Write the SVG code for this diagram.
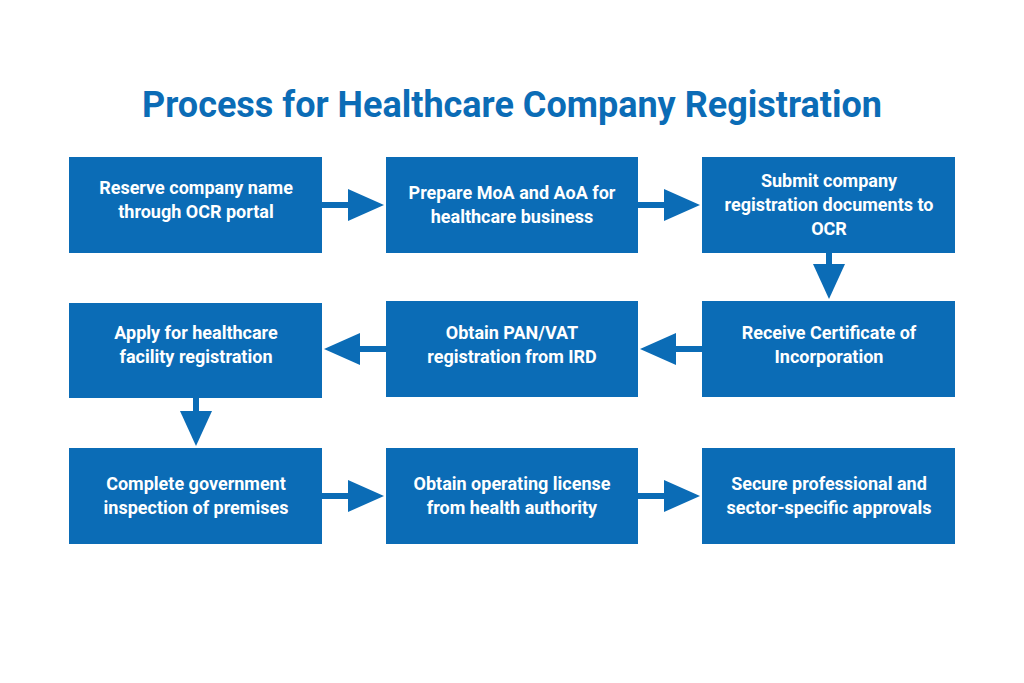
<svg xmlns="http://www.w3.org/2000/svg" width="1024" height="683" viewBox="0 0 1024 683">
<style>
.b{fill:#0b6cb6}
.t{font-family:Roboto,"Liberation Sans",sans-serif;font-weight:bold;font-size:18px;fill:#fff;text-anchor:middle}
.c{stroke:#0b6cb6;stroke-width:6;fill:none}
.h{fill:#0b6cb6}
</style>
<rect width="1024" height="683" fill="#fff"/>
<text x="512" y="117" style="font-family:Roboto,'Liberation Sans',sans-serif;font-weight:bold;font-size:36px;fill:#0b6cb6;text-anchor:middle">Process for Healthcare Company Registration</text>
<g id="connectors">
<path class="c" d="M322 205H350"/><polygon class="h" points="348,189 384,205 348,221"/>
<path class="c" d="M638 205H666"/><polygon class="h" points="664,189 700,205 664,221"/>
<path class="c" d="M829 253V266"/><polygon class="h" points="813,264 829,299 845,264"/>
<path class="c" d="M702 349H674"/><polygon class="h" points="676,333 640,349 676,365"/>
<path class="c" d="M386 349H358"/><polygon class="h" points="360,333 324,349 360,365"/>
<path class="c" d="M196 398V413"/><polygon class="h" points="180,411 196,446 212,411"/>
<path class="c" d="M322 496H350"/><polygon class="h" points="348,480 384,496 348,512"/>
<path class="c" d="M638 496H666"/><polygon class="h" points="664,480 700,496 664,512"/>
</g>
<g id="n1"><rect class="b" x="69" y="157" width="253" height="96"/><text class="t" x="196" y="194">Reserve company name</text><text class="t" x="196" y="218">through OCR portal</text></g>
<g id="n2"><rect class="b" x="386" y="157" width="252" height="96"/><text class="t" x="512" y="199">Prepare MoA and AoA for</text><text class="t" x="512" y="223">healthcare business</text></g>
<g id="n3"><rect class="b" x="702" y="157" width="253" height="96"/><text class="t" x="829" y="187">Submit company</text><text class="t" x="829" y="211">registration documents to</text><text class="t" x="829" y="235">OCR</text></g>
<g id="n4"><rect class="b" x="702" y="301" width="253" height="96"/><text class="t" x="829" y="339">Receive Certificate of</text><text class="t" x="829" y="363">Incorporation</text></g>
<g id="n5"><rect class="b" x="386" y="301" width="252" height="96"/><text class="t" x="512" y="339">Obtain PAN/VAT</text><text class="t" x="512" y="363">registration from IRD</text></g>
<g id="n6"><rect class="b" x="69" y="303" width="253" height="95"/><text class="t" x="196" y="339">Apply for healthcare</text><text class="t" x="196" y="363">facility registration</text></g>
<g id="n7"><rect class="b" x="69" y="448" width="253" height="96"/><text class="t" x="196" y="490">Complete government</text><text class="t" x="196" y="514">inspection of premises</text></g>
<g id="n8"><rect class="b" x="386" y="448" width="252" height="96"/><text class="t" x="512" y="490">Obtain operating license</text><text class="t" x="512" y="514">from health authority</text></g>
<g id="n9"><rect class="b" x="702" y="448" width="253" height="96"/><text class="t" x="829" y="490">Secure professional and</text><text class="t" x="829" y="514">sector-specific approvals</text></g>
</svg>
